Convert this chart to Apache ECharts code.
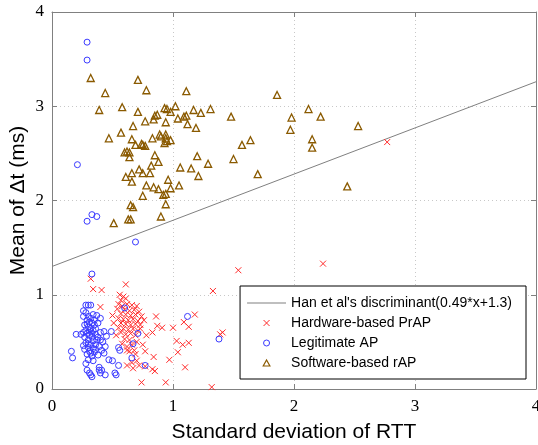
<!DOCTYPE html>
<html><head><meta charset="utf-8">
<script src="https://cdn.jsdelivr.net/npm/echarts@6/dist/echarts.min.js"></script>
<style>html,body{margin:0;padding:0;background:#fff}#c{width:538px;height:445px}</style>
</head><body><div id="c"></div>
<script>
// ---- data ----
var xTicks = [0, 1, 2, 3, 4];
var yTicks = [0, 1, 2, 3, 4];
var seriesNames = ["Han et al's discriminant(0.49*x+1.3)", "Hardware-based PrAP", "Legitimate AP", "Software-based rAP"];

var discrimX = [0, 4];
var discrimY = [1.3, 3.26];

var prapPoints = [
[2.77,2.62],[2.24,1.33],[1.54,1.26],[0.32,1.17],[0.34,1.06],[0.41,1.05],[0.61,1.11],[1.33,1.04],
[0.56,1.00],[0.59,0.98],[0.61,0.96],[0.57,0.94],[0.40,0.87],[0.50,0.78],[0.86,0.77],[1.18,0.79],
[1.09,0.71],[1.13,0.66],[0.87,0.67],[0.91,0.65],[1.00,0.65],[0.73,0.64],[0.78,0.57],[0.83,0.60],
[1.03,0.51],[1.08,0.47],[1.13,0.49],[1.39,0.58],[1.41,0.60],[0.75,0.47],[0.77,0.40],[1.04,0.39],
[0.84,0.34],[0.97,0.31],[0.72,0.25],[0.77,0.24],[0.83,0.21],[0.85,0.19],[1.10,0.23],[0.94,0.07],
[1.32,0.02],[0.74,0.07],[0.62,0.25],[0.62,0.41],[0.64,0.40],[0.68,0.41],[0.69,0.37],[0.70,0.30],
[0.66,0.28],[0.67,0.22],
[0.55,0.90],[0.58,0.88],[0.62,0.90],[0.66,0.89],[0.70,0.88],[0.54,0.85],[0.60,0.84],[0.64,0.83],
[0.68,0.84],[0.72,0.82],[0.57,0.80],[0.61,0.79],[0.65,0.78],[0.69,0.79],[0.74,0.77],[0.55,0.75],
[0.59,0.74],[0.63,0.73],[0.67,0.74],[0.71,0.72],[0.76,0.73],[0.57,0.70],[0.61,0.69],[0.65,0.68],
[0.69,0.69],[0.73,0.68],[0.55,0.65],[0.59,0.64],[0.63,0.63],[0.67,0.64],[0.71,0.62],[0.57,0.60],
[0.61,0.58],[0.65,0.59],[0.69,0.57],[0.60,0.53],[0.64,0.52],[0.58,0.48],[0.66,0.47],[0.62,0.45],
[0.70,0.50],[0.53,0.57],[0.51,0.70]
];

var legitPoints = [
[0.29,3.68],[0.29,3.49],[0.21,2.38],[0.33,1.85],[0.37,1.83],[0.29,1.78],[0.69,1.56],[0.33,1.22],
[0.28,0.89],[0.30,0.89],[0.32,0.89],[0.26,0.83],[0.28,0.81],[0.34,0.79],[0.37,0.78],[0.40,0.75],
[0.26,0.77],[0.29,0.73],[0.31,0.71],[0.33,0.70],[0.27,0.68],[0.30,0.66],[0.35,0.68],[0.38,0.70],
[0.32,0.64],[0.28,0.62],[0.34,0.62],[0.20,0.58],[0.24,0.58],[0.43,0.61],[0.49,0.61],[0.45,0.56],
[0.29,0.59],[0.31,0.57],[0.33,0.55],[0.36,0.58],[0.38,0.55],[0.27,0.55],[0.30,0.52],[0.34,0.51],
[0.40,0.52],[0.42,0.50],[0.28,0.49],[0.32,0.47],[0.36,0.47],[0.39,0.45],[0.30,0.44],[0.34,0.43],
[0.27,0.42],[0.31,0.40],[0.35,0.39],[0.41,0.41],[0.29,0.37],[0.33,0.35],[0.38,0.36],[0.43,0.38],
[0.16,0.40],[0.17,0.33],[0.47,0.31],[0.50,0.30],[0.55,0.25],[0.30,0.31],[0.34,0.30],[0.28,0.27],
[0.29,0.20],[0.31,0.17],[0.32,0.15],[0.33,0.13],[0.39,0.23],[0.39,0.20],[0.41,0.20],[0.40,0.17],
[0.44,0.15],[0.52,0.17],[0.53,0.15],[0.56,0.41],[0.55,0.44],[0.60,0.86],[0.71,0.59],[0.67,0.48],
[0.66,0.33],[0.77,0.25],[1.12,0.77],[1.38,0.53],
[0.30,0.77],[0.32,0.75],[0.29,0.69],[0.35,0.73],[0.31,0.62],[0.36,0.64],[0.26,0.60],[0.30,0.48],
[0.37,0.52],[0.33,0.59],[0.40,0.60],[0.44,0.45],[0.26,0.46],[0.36,0.42],[0.32,0.38]
];

var rapPoints = [
[0.32,3.30],[0.71,3.28],[0.78,3.17],[0.44,3.14],[1.11,3.16],[1.86,3.12],[0.39,2.96],[0.58,2.99],
[0.71,2.94],[0.93,2.98],[0.95,2.97],[0.98,2.94],[1.02,3.00],[0.85,2.90],[0.87,2.91],[0.84,2.86],
[0.77,2.84],[0.67,2.79],[0.94,2.83],[1.04,2.87],[1.09,2.89],[1.11,2.90],[1.17,2.96],[1.23,2.93],
[1.31,2.97],[1.12,2.81],[1.19,2.77],[1.48,2.89],[0.57,2.72],[0.47,2.66],[0.66,2.65],[0.69,2.59],
[0.74,2.60],[0.75,2.59],[0.77,2.58],[0.83,2.66],[0.89,2.70],[0.90,2.68],[0.94,2.70],[0.94,2.66],
[0.93,2.61],[0.95,2.63],[0.98,2.64],[0.60,2.51],[0.62,2.52],[0.64,2.51],[0.64,2.46],[0.85,2.48],
[0.88,2.41],[0.82,2.37],[1.20,2.47],[1.06,2.35],[1.15,2.34],[1.29,2.39],[1.50,2.44],[1.57,2.59],
[1.64,2.64],[1.70,2.28],[0.72,2.33],[0.75,2.29],[0.81,2.29],[0.66,2.29],[0.61,2.25],[0.66,2.20],
[1.21,2.26],[0.78,2.16],[0.84,2.14],[0.88,2.12],[0.92,2.06],[0.94,2.07],[0.98,2.13],[0.96,2.22],
[1.05,2.16],[0.75,2.05],[0.65,1.95],[0.67,1.93],[0.94,1.96],[0.51,1.76],[0.63,1.80],[0.65,1.80],
[0.90,1.83],[2.12,2.97],[1.98,2.88],[2.22,2.89],[1.97,2.75],[2.53,2.79],[2.15,2.65],[2.15,2.56],
[2.44,2.15]
];

// ---- styles ----
var axisGray = '#808080';
var lineGray = '#808080';
var red = '#ff2a2a', blue = '#3a3aff', brown = '#8a5a00';
var xPath = 'path://M0,0L10,10M10,0L0,10';
var triPath = 'path://M5,0L10,9L0,9Z';
var serif = '"Liberation Serif", "DejaVu Serif", serif';
var sans = '"Liberation Sans", Arial, sans-serif';
var chart = echarts.init(document.getElementById('c'), null, {renderer: 'canvas'});

function baseAxis(extra) {
  var a = {
    type: 'value', min: 0, max: 4, interval: 1,
    axisLine: {show: true, onZero: false, lineStyle: {color: axisGray, width: 1}},
    axisTick: {show: true, inside: true, length: 5, lineStyle: {color: axisGray}},
    splitLine: {show: false}
  };
  for (var k in extra) a[k] = extra[k];
  return a;
}

var option = {
  animation: false,
  backgroundColor: '#fff',
  grid: {left: 52, right: 2, top: 12, bottom: 56, containLabel: false, outerBoundsMode: 'none'},
  xAxis: [
    baseAxis({
      position: 'bottom',
      name: 'Standard deviation of RTT', nameLocation: 'middle', nameGap: 33, nameMoveOverlap: false,
      nameTextStyle: {fontFamily: sans, fontSize: 21, color: '#000'},
      axisLabel: {fontFamily: serif, fontSize: 17, color: '#000', margin: 9,
        formatter: function (v) { return xTicks.indexOf(v) >= 0 ? String(v) : ''; }},
      splitLine: {show: true, lineStyle: {color: '#c8c8c8', type: [1, 3], width: 1}}
    }),
    baseAxis({position: 'top', axisLabel: {show: false}})
  ],
  yAxis: [
    baseAxis({
      position: 'left',
      name: 'Mean of Δt (ms)', nameLocation: 'middle', nameGap: 23, nameMoveOverlap: false,
      nameTextStyle: {fontFamily: sans, fontSize: 21, color: '#000'},
      axisLabel: {fontFamily: serif, fontSize: 17, color: '#000', margin: 8,
        formatter: function (v) { return yTicks.indexOf(v) >= 0 ? String(v) : ''; }},
      splitLine: {show: true, lineStyle: {color: '#c8c8c8', type: [1, 3], width: 1}}
    }),
    baseAxis({position: 'right', axisLabel: {show: false}})
  ],
  legend: {
    orient: 'vertical',
    right: 12, top: 286,
    width: 288,
    backgroundColor: '#fff',
    borderColor: '#000', borderWidth: 1,
    padding: [9, 14, 8, 7],
    itemWidth: 39, itemHeight: 6, itemGap: 4,
    symbolKeepAspect: true,
    textStyle: {fontFamily: sans, fontSize: 14, color: '#000', lineHeight: 16},
    data: [
      {name: seriesNames[0], icon: 'path://M0,0L40,0L40,1L0,1Z', itemStyle: {color: lineGray, borderWidth: 0}},
      {name: seriesNames[1], icon: xPath, itemStyle: {color: 'rgba(0,0,0,0)', borderColor: red, borderWidth: 1}},
      {name: seriesNames[2], icon: 'circle', itemStyle: {color: 'rgba(0,0,0,0)', borderColor: blue, borderWidth: 1}},
      {name: seriesNames[3], icon: triPath, itemStyle: {color: 'rgba(0,0,0,0)', borderColor: brown, borderWidth: 1.2}}
    ]
  },
  series: [
    {
      name: seriesNames[0], type: 'line', symbol: 'none', silent: true,
      lineStyle: {color: lineGray, width: 1},
      itemStyle: {color: lineGray},
      data: discrimX.map(function (x, i) { return [x, discrimY[i]]; }),
      z: 1
    },
    {
      name: seriesNames[1], type: 'scatter', symbol: xPath, symbolSize: 6,
      itemStyle: {color: 'rgba(0,0,0,0)', borderColor: red, borderWidth: 1, opacity: 1},
      data: prapPoints, z: 2
    },
    {
      name: seriesNames[2], type: 'scatter', symbol: 'circle', symbolSize: 6,
      itemStyle: {color: 'rgba(0,0,0,0)', borderColor: blue, borderWidth: 1, opacity: 1},
      data: legitPoints, z: 3
    },
    {
      name: seriesNames[3], type: 'scatter', symbol: 'triangle', symbolSize: [7, 7],
      itemStyle: {color: 'rgba(0,0,0,0)', borderColor: brown, borderWidth: 1.3, opacity: 1},
      data: rapPoints, z: 4
    }
  ]
};
chart.setOption(option);
</script>
</body></html>
